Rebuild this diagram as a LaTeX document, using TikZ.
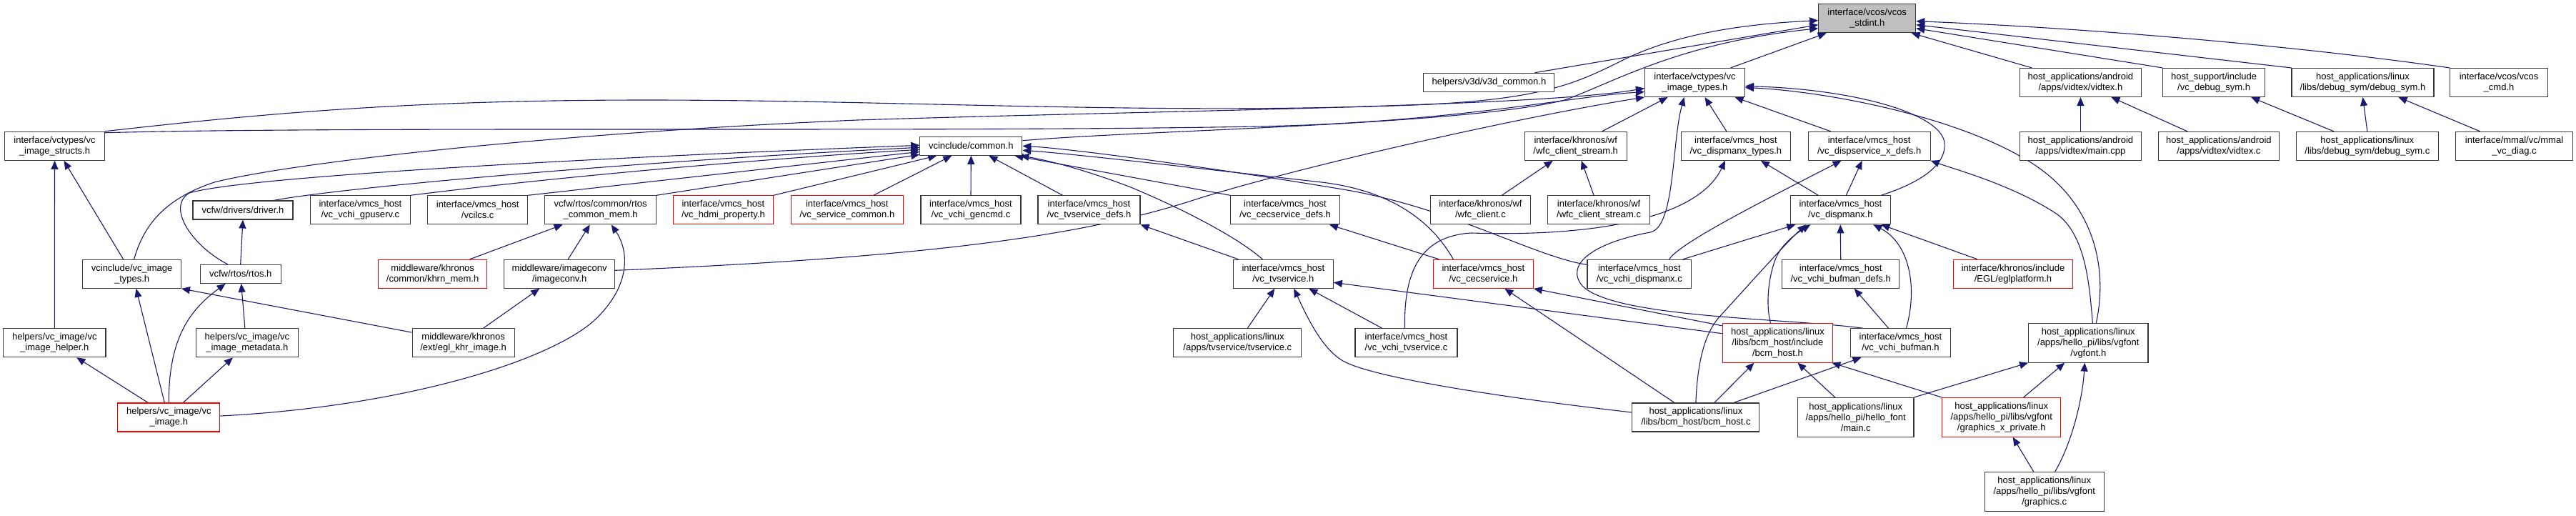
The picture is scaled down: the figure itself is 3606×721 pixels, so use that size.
\documentclass[tikz,border=0pt]{standalone}
\usepackage{fontspec}
\setmainfont{Liberation Sans}
\usetikzlibrary{arrows.meta}
\definecolor{edgeblue}{HTML}{191970}
\definecolor{boxgray}{HTML}{BFBFBF}
\pgfdeclarelayer{bg}
\pgfsetlayers{bg,main}
\begin{document}
\begin{tikzpicture}[x=1pt,y=-1pt,
  box/.style={draw=black!78, line width=1.1pt, fill=white, inner sep=1pt, align=center,
    font=\fontsize{13}{15}\selectfont, minimum height=40pt},
  hone/.style={minimum height=26pt},
  hthree/.style={minimum height=54.7pt},
  redbox/.style={box, draw=red},
  graybox/.style={box, fill=boxgray},
  e/.style={draw=edgeblue, line width=1.1pt, -{Triangle[length=12pt,width=10pt]}},
]
\useasboundingbox (0,0) rectangle (3606,721);

% rank 0
\node[graybox, minimum width=136pt] (stdint) at (2613.7,25.7) {interface/vcos/vcos\\\_stdint.h};
% rank 1
\node[box, hone, minimum width=183pt] (v3d) at (2084.4,115.3) {helpers/v3d/v3d\_common.h};
\node[box, minimum width=140pt] (vtypes) at (2372.5,115.5) {interface/vctypes/vc\\\_image\_types.h};
\node[box, minimum width=169.4pt] (vidtexh) at (2912.4,115.5) {host\_applications/android\\/apps/vidtex/vidtex.h};
\node[box, minimum width=142.6pt] (vcdbg) at (3099.1,115.5) {host\_support/include\\/vc\_debug\_sym.h};
\node[box, minimum width=199pt] (dbgh) at (3307.5,115.5) {host\_applications/linux\\/libs/debug\_sym/debug\_sym.h};
\node[box, minimum width=136.4pt] (vcoscmd) at (3498,115.5) {interface/vcos/vcos\\\_cmd.h};
% rank 2
\node[box, minimum width=140pt] (structs) at (76.5,204.3) {interface/vctypes/vc\\\_image\_structs.h};
\node[box, hone, minimum width=143pt] (common) at (1359.3,204.3) {vcinclude/common.h};
\node[box, minimum width=143pt] (wfcsh) at (2205.7,204.3) {interface/khronos/wf\\/wfc\_client\_stream.h};
\node[box, minimum width=153.5pt] (dmtypes) at (2429.9,204.3) {interface/vmcs\_host\\/vc\_dispmanx\_types.h};
\node[box, minimum width=171pt] (dsxdefs) at (2616.6,204.3) {interface/vmcs\_host\\/vc\_dispservice\_x\_defs.h};
\node[box, minimum width=169.4pt] (maincpp) at (2912.4,204.3) {host\_applications/android\\/apps/vidtex/main.cpp};
\node[box, minimum width=169.3pt] (vidtexc) at (3105.9,204.3) {host\_applications/android\\/apps/vidtex/vidtex.c};
\node[box, minimum width=198.6pt] (dbgc) at (3313.8,204.3) {host\_applications/linux\\/libs/debug\_sym/debug\_sym.c};
\node[box, minimum width=164pt] (mmal) at (3519.5,204.3) {interface/mmal/vc/mmal\\\_vc\_diag.c};
% rank 3
\node[box, hone, minimum width=140pt] (driver) at (340,294) {vcfw/drivers/driver.h};
\node[box, minimum width=140pt] (gpuserv) at (504.4,293.8) {interface/vmcs\_host\\/vc\_vchi\_gpuserv.c};
\node[box, minimum width=140pt] (vcilcs) at (668.7,293.8) {interface/vmcs\_host\\/vcilcs.c};
\node[box, minimum width=155.6pt] (rtoscm) at (840.7,293.8) {vcfw/rtos/common/rtos\\\_common\_mem.h};
\node[redbox, minimum width=140pt] (hdmi) at (1012.4,293.8) {interface/vmcs\_host\\/vc\_hdmi\_property.h};
\node[redbox, minimum width=157.3pt] (svccommon) at (1185.8,293.8) {interface/vmcs\_host\\/vc\_service\_common.h};
\node[box, minimum width=140pt] (gencmd) at (1359,293.8) {interface/vmcs\_host\\/vc\_vchi\_gencmd.c};
\node[box, minimum width=143pt] (tvdefs) at (1524.5,293.8) {interface/vmcs\_host\\/vc\_tvservice\_defs.h};
\node[box, minimum width=153.5pt] (cecdefs) at (1799,293.8) {interface/vmcs\_host\\/vc\_cecservice\_defs.h};
\node[box, minimum width=140pt] (wfcc) at (2072.4,293.8) {interface/khronos/wf\\/wfc\_client.c};
\node[box, minimum width=142.6pt] (wfcsc) at (2238.1,293.8) {interface/khronos/wf\\/wfc\_client\_stream.c};
\node[box, minimum width=140pt] (dispmanx) at (2576.3,293.8) {interface/vmcs\_host\\/vc\_dispmanx.h};
% rank 4
\node[box, minimum width=137.6pt] (vcinctypes) at (184.6,383.3) {vcinclude/vc\_image\\\_types.h};
\node[box, hone, minimum width=113pt] (rtos) at (336.7,383.3) {vcfw/rtos/rtos.h};
\node[redbox, minimum width=152pt] (khrnmem) at (605.6,383.3) {middleware/khronos\\/common/khrn\_mem.h};
\node[box, minimum width=154.8pt] (imageconv) at (783.2,383.3) {middleware/imageconv\\/imageconv.h};
\node[box, minimum width=140pt] (tvservice) at (1796.3,383.3) {interface/vmcs\_host\\/vc\_tvservice.h};
\node[redbox, minimum width=140pt] (cecservice) at (2076.3,383.3) {interface/vmcs\_host\\/vc\_cecservice.h};
\node[box, minimum width=145.6pt] (vchidm) at (2294.8,383.3) {interface/vmcs\_host\\/vc\_vchi\_dispmanx.c};
\node[box, minimum width=164pt] (bufdefs) at (2576.7,383.3) {interface/vmcs\_host\\/vc\_vchi\_bufman\_defs.h};
\node[redbox, minimum width=166.7pt] (eglplat) at (2818,383.3) {interface/khronos/include\\/EGL/eglplatform.h};
% rank 5
\node[box, minimum width=143.4pt] (helper) at (76.3,479.7) {helpers/vc\_image/vc\\\_image\_helper.h};
\node[box, minimum width=143pt] (metadata) at (345.9,479.7) {helpers/vc\_image/vc\\\_image\_metadata.h};
\node[box, minimum width=143pt] (eglkhr) at (648.6,479.7) {middleware/khronos\\/ext/egl\_khr\_image.h};
\node[box, minimum width=179pt] (tvsc) at (1732.3,479.7) {host\_applications/linux\\/apps/tvservice/tvservice.c};
\node[box, minimum width=143pt] (vchitv) at (1968.5,479.7) {interface/vmcs\_host\\/vc\_vchi\_tvservice.c};
\node[redbox, hthree, minimum width=154.5pt] (bcmhosth) at (2488.4,479.7) {host\_applications/linux\\/libs/bcm\_host/include\\/bcm\_host.h};
\node[box, minimum width=140pt] (bufman) at (2660.5,479.7) {interface/vmcs\_host\\/vc\_vchi\_bufman.h};
\node[box, hthree, minimum width=167.4pt] (vgfont) at (2923.3,479.7) {host\_applications/linux\\/apps/hello\_pi/libs/vgfont\\/vgfont.h};
% rank 6
\node[redbox, minimum width=143pt] (vcimage) at (236.3,584) {helpers/vc\_image/vc\\\_image.h};
\node[box, minimum width=178pt] (bcmhostc) at (2373.9,584) {host\_applications/linux\\/libs/bcm\_host/bcm\_host.c};
\node[box, hthree, minimum width=162.5pt] (hellomain) at (2597.7,583.8) {host\_applications/linux\\/apps/hello\_pi/hello\_font\\/main.c};
\node[redbox, hthree, minimum width=166.4pt] (gxprivate) at (2801.7,583.8) {host\_applications/linux\\/apps/hello\_pi/libs/vgfont\\/graphics\_x\_private.h};
% rank 7
\node[box, hthree, minimum width=166.7pt] (graphicsc) at (2861.7,687.8) {host\_applications/linux\\/apps/hello\_pi/libs/vgfont\\/graphics.c};

\begin{pgfonlayer}{bg}
\fill[white] (0,0) rectangle (3606,721);
% into vcos_stdint.h
\draw[e] (structs.north east) .. controls (400,155) and (600,140) .. (906,140) .. controls (1250,140) and (1600,160) .. (1950,148) .. controls (2150,142) and (2200,120) .. (2270,85) .. controls (2340,50) and (2430,34) .. ([yshift=-3pt]stdint.west);
\draw[e] ([yshift=-6pt]common.north east) .. controls (1600,182) and (2050,175) .. (2190,140) .. controls (2260,115) and (2350,60) .. ([yshift=-14pt]stdint.west);
\draw[e] ([xshift=64pt]v3d.north) -- ([yshift=-9pt]stdint.west);
\draw[e] ([xshift=50pt]vtypes.north) -- ([xshift=-57pt]stdint.south);
\draw[e] ([xshift=-68pt]vidtexh.north) -- ([xshift=62pt]stdint.south);
\draw[e] (vcdbg.north west) -- ([yshift=-14pt]stdint.east);
\draw[e] (dbgh.north west) -- ([yshift=-9pt]stdint.east);
\draw[e] (vcoscmd.north west) .. controls (3200,62) and (2900,38) .. ([yshift=-4pt]stdint.east);
% into vc_image_structs.h
\draw[e] (helper.north) -- (structs.south);
\draw[e] ([xshift=-12pt]vcinctypes.north) -- ([xshift=13pt]structs.south);
% into interface/vctypes/vc_image_types.h
\draw[e] ([yshift=-2pt]structs.north east) .. controls (500,176) and (1400,186) .. (1800,176) .. controls (2050,168) and (2200,135) .. ([yshift=-13pt]vtypes.west);
\draw[e] ([xshift=3pt]vcinctypes.north) .. controls (200,320) and (225,280) .. (300,255) .. controls (420,225) and (800,185) .. (1200,168) .. controls (1600,155) and (2150,150) .. ([yshift=-8pt]vtypes.west);
\draw[e] ([yshift=5pt]imageconv.east) .. controls (1300,360) and (1520,330) .. (1680,277) .. controls (1850,225) and (2150,160) .. (vtypes.south west);
\draw[e] ([xshift=37pt]wfcsh.north) -- ([xshift=-38pt]vtypes.south);
\draw[e] ([xshift=-53pt]bufman.north) .. controls (2500,445) and (2260,445) .. (2215,400) .. controls (2190,370) and (2230,340) .. (2310,325) .. controls (2345,318) and (2340,200) .. ([xshift=-15pt]vtypes.south);
\draw[e] ([xshift=-13pt]dmtypes.north) -- ([xshift=14pt]vtypes.south);
\draw[e] ([xshift=57pt]dispmanx.north) .. controls (2690,255) and (2725,230) .. (2722,200) .. controls (2718,160) and (2600,125) .. ([yshift=-5pt]vtypes.east);
\draw[e] ([xshift=11pt]vgfont.north) .. controls (2950,380) and (2935,290) .. (2850,232) .. controls (2750,165) and (2560,128) .. ([yshift=-7pt]vtypes.east);
\draw[e] ([xshift=-54pt]dsxdefs.north) -- ([xshift=56pt]vtypes.south);
% vcinclude/vc_image_types.h
\draw[e] ([yshift=-6pt]eglkhr.north west) -- (vcinctypes.south east);
\draw[e] ([xshift=-6pt]vcimage.north) -- ([xshift=6pt]vcinctypes.south);
% rtos / driver
\draw[e] (rtos.north) -- (driver.south);
\draw[e] ([xshift=-18pt]rtos.north) .. controls (270,345) and (232,290) .. (265,270) .. controls (350,245) and (900,218) .. ([yshift=1pt]common.west);
\draw[e] (vcimage.north) .. controls (236,470) and (268,432) .. ([xshift=-21pt]rtos.south);
\draw[e] ([xshift=-3pt]metadata.north) -- ([xshift=1pt]rtos.south);
\draw[e] ([xshift=-29pt]vcimage.north) -- ([xshift=31pt]helper.south);
\draw[e] ([xshift=20pt]vcimage.north) -- ([xshift=-20pt]metadata.south);
% rtos_common_mem.h
\draw[e] ([yshift=2pt]vcimage.east) .. controls (550,570) and (760,510) .. (830,450) .. controls (885,400) and (880,350) .. ([xshift=15pt]rtoscm.south);
\draw[e] ([xshift=52pt]khrnmem.north) -- ([xshift=-53pt]rtoscm.south);
\draw[e] ([xshift=12pt]imageconv.north) -- ([xshift=-15pt]rtoscm.south);
\draw[e] ([xshift=28pt]eglkhr.north) -- ([xshift=-28pt]imageconv.south);
% into common.h
\draw[e] ([xshift=43pt]driver.north) .. controls (480,262) and (900,225) .. ([yshift=-2pt]common.west);
\draw[e] (gpuserv.north east) .. controls (800,245) and (1100,220) .. ([yshift=-5pt]common.west);
\draw[e] (vcilcs.north east) -- ([yshift=-8pt]common.west);
\draw[e] (rtoscm.north east) -- ([yshift=-12pt]common.west);
\draw[e] (hdmi.north east) -- ([xshift=-48pt]common.south);
\draw[e] ([xshift=37pt]svccommon.north) -- ([xshift=-27pt]common.south);
\draw[e] (gencmd.north) -- (common.south);
\draw[e] ([xshift=-37pt]tvdefs.north) -- ([xshift=25pt]common.south);
\draw[e] (cecdefs.north west) -- ([xshift=61pt]common.south);
\draw[e] ([xshift=-29pt]tvservice.north) .. controls (1730,330) and (1650,290) .. (1583,262) .. controls (1520,238) and (1470,225) .. ([xshift=-3pt]common.south east);
\draw[e] ([xshift=-42pt]cecservice.north) .. controls (2010,320) and (1960,268) .. (1850,255) .. controls (1700,238) and (1500,215) .. ([yshift=-6pt]common.east);
\draw[e] ([yshift=13pt]vchidm.west) .. controls (2150,360) and (2030,290) .. (1880,265) .. controls (1700,235) and (1500,208) .. (common.east);
% tvservice.h
\draw[e] ([xshift=14pt]tvsc.north) -- ([xshift=-12pt]tvservice.south);
\draw[e] ([xshift=-34pt]vchitv.north) -- ([xshift=36pt]tvservice.south);
\draw[e] ([yshift=7pt]bcmhostc.west) .. controls (2100,556) and (1920,528) .. (1880,505) .. controls (1850,488) and (1828,440) .. ([xshift=15pt]tvservice.south);
\draw[e] ([yshift=13pt]bcmhosth.west) -- ([yshift=-12pt]tvservice.east);
\draw[e] ([xshift=-63pt]tvservice.north) -- (tvdefs.south east);
% cecservice
\draw[e] ([xshift=-62pt]cecservice.north) -- ([xshift=62pt]cecdefs.south);
\draw[e] ([xshift=-30pt]bcmhostc.north) -- ([xshift=30pt]cecservice.south);
\draw[e] ([yshift=-4pt]bcmhosth.north west) -- (cecservice.south east);
% dispmanx
\draw[e] ([xshift=-31pt]dispmanx.north) -- ([xshift=35pt]dmtypes.south);
\draw[e] ([xshift=-2pt]vchitv.north) .. controls (1965,385) and (1985,330) .. (2060,326) .. controls (2250,332) and (2380,300) .. ([xshift=-15pt]dmtypes.south);
\draw[e] ([xshift=61pt]vchidm.north) -- ([xshift=-63pt]dispmanx.south);
\draw[e] ([xshift=42pt]vchidm.north) .. controls (2350,340) and (2480,275) .. ([xshift=-39pt]dsxdefs.south);
\draw[e] ([xshift=8pt]dispmanx.north) -- ([xshift=-10pt]dsxdefs.south);
\draw[e] ([xshift=-10pt]bcmhosth.north) .. controls (2470,420) and (2478,370) .. (2492,350) .. controls (2505,332) and (2522,322) .. ([xshift=-42pt]dispmanx.south);
\draw[e] (bcmhostc.north) .. controls (2376,510) and (2385,465) .. (2410,440) .. controls (2460,385) and (2505,335) .. ([xshift=-48pt]dispmanx.south);
\draw[e] (bufdefs.north) -- (dispmanx.south);
\draw[e] ([xshift=8pt]bufman.north) .. controls (2685,400) and (2672,340) .. ([xshift=46pt]dispmanx.south);
\draw[e] ([xshift=-50pt]eglplat.north) -- ([xshift=57pt]dispmanx.south);
\draw[e] ([xshift=6pt]vgfont.north) .. controls (2925,400) and (2920,330) .. (2880,300) .. controls (2820,260) and (2740,238) .. (dsxdefs.south east);
% lower right
\draw[e] (hellomain.north east) -- (vgfont.south west);
\draw[e] ([xshift=31pt]gxprivate.north) -- ([xshift=-33pt]vgfont.south);
\draw[e] ([xshift=15pt]graphicsc.north) .. controls (2900,620) and (2915,560) .. ([xshift=-5pt]vgfont.south);
\draw[e] ([xshift=26pt]bcmhostc.north) -- ([xshift=-33pt]bcmhosth.south);
\draw[e] ([xshift=-29pt]hellomain.north) -- ([xshift=28pt]bcmhosth.south);
\draw[e] (gxprivate.north west) -- ([xshift=-2pt]bcmhosth.south east);
\draw[e] ([xshift=53pt]bcmhostc.north) -- ([xshift=-55pt]bufman.south);
\draw[e] ([xshift=-15pt]graphicsc.north) -- ([xshift=16pt]gxprivate.south);
\draw[e] ([xshift=-17pt]bufman.north) -- ([xshift=19pt]bufdefs.south);
% right cluster
\draw[e] (maincpp.north) -- (vidtexh.south);
\draw[e] ([xshift=-44pt]vidtexc.north) -- ([xshift=43pt]vidtexh.south);
\draw[e] ([xshift=-47pt]dbgc.north) -- ([xshift=52pt]vcdbg.south);
\draw[e] (dbgc.north) -- (dbgh.south);
\draw[e] ([xshift=-48pt]mmal.north) -- ([xshift=50pt]dbgh.south);
\draw[e] ([xshift=30pt]wfcc.north) -- ([xshift=-32pt]wfcsh.south);
\draw[e] ([xshift=-7pt]wfcsc.north) -- ([xshift=8pt]wfcsh.south);
\end{pgfonlayer}
\end{tikzpicture}
\end{document}
